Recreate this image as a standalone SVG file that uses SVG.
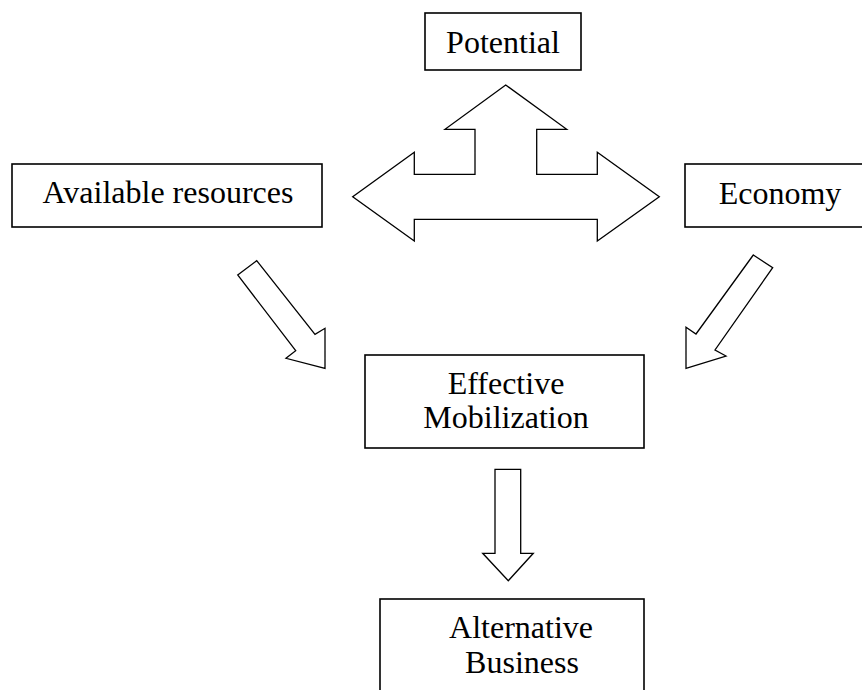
<svg xmlns="http://www.w3.org/2000/svg" width="862" height="690" viewBox="0 0 862 690">
<style>
.box{fill:#fff;stroke:#000;stroke-width:1.6}
.arr{fill:#fff;stroke:#000;stroke-width:1.3;stroke-linejoin:miter}
.t{font-family:"Liberation Serif","Times New Roman",serif;font-size:32px;fill:#000;text-anchor:middle}
</style>
<rect width="862" height="690" fill="#fff"/>
<g id="potential"><rect class="box" x="425" y="13" width="156" height="57"/><text class="t" x="503" y="53">Potential</text></g>
<g id="available-resources"><rect class="box" x="12" y="164" width="310" height="63"/><text class="t" x="168" y="203">Available resources</text></g>
<g id="economy"><rect class="box" x="685" y="164" width="190" height="63"/><text class="t" x="780" y="204">Economy</text></g>
<g id="effective-mobilization"><rect class="box" x="365" y="355" width="279" height="93"/><text class="t" x="506" y="394">Effective</text><text class="t" x="506" y="428">Mobilization</text></g>
<g id="alternative-business"><rect class="box" x="380" y="599" width="264" height="110"/><text class="t" x="521" y="638">Alternative</text><text class="t" x="522" y="673">Business</text></g>
<g id="connectors">
<polygon class="arr" points="505.7,85 566.7,129.3 536.7,129.3 536.7,174.3 597.3,174.3 597.3,152.3 659.3,196.7 597.3,241 597.3,219.3 414.3,219.3 414.3,241 352.7,196.7 414.3,152.3 414.3,174.3 475,174.3 475,129.3 445,129.3"/>
<polygon class="arr" points="237.7,275 256.7,260.7 315,334.3 325,328.3 325,368.3 286,358.3 295.7,350.7"/>
<polygon class="arr" points="753.3,255 772.7,267.7 715,350 726,356 686,368.3 686,327.3 696,334"/>
<polygon class="arr" points="495,469.3 520.7,469.3 520.7,553.3 533.3,553.3 508.3,580.7 482.7,553.3 495,553.3"/>
</g>
</svg>
